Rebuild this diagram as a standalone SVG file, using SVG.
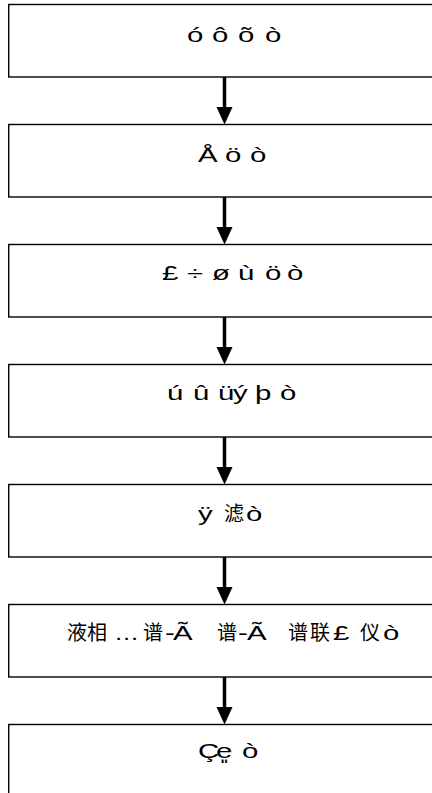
<svg xmlns="http://www.w3.org/2000/svg" width="432" height="793" viewBox="0 0 432 793">
<style>
.box{fill:#fff;stroke:#000;stroke-width:1.4}
.t{font-family:"Liberation Sans",Arial,sans-serif;font-size:21px;fill:#000}
.k{font-family:"Noto Sans CJK SC","Noto Sans CJK JP",sans-serif;font-size:20px;fill:#000}
.c{stroke:#000;stroke-width:3.5;fill:none}
.h{fill:#000}
</style>
<rect width="432" height="793" fill="#fff"/>
<g id="n1"><rect class="box" x="8.7" y="4.5" width="460" height="72.5"/>
<text class="t" transform="scale(1.4,1)" x="133.57 151.43 170 189.29" y="42">óôõò</text></g>
<g id="n2"><rect class="box" x="8.7" y="124.5" width="460" height="72.5"/>
<text class="t" transform="scale(1.4,1)" x="141.43 160.71 178.57" y="162">Åöò</text></g>
<g id="n3"><rect class="box" x="8.7" y="244.5" width="460" height="72.5"/>
<text class="t" transform="scale(1.4,1)" x="115.71 133.57 151.43 170 189.29 205" y="280">£÷øùöò</text></g>
<g id="n4"><rect class="box" x="8.7" y="364.5" width="460" height="72.5"/>
<text class="t" transform="scale(1.4,1)" x="119.29 137.86 155.71 166.43 182.14 200" y="400">úûüýþò</text></g>
<g id="n5"><rect class="box" x="8.7" y="484.5" width="460" height="72.5"/>
<text class="t" transform="scale(1.4,1)" x="141.43" y="521">ÿ</text>
<text class="k" x="224" y="521">滤</text>
<text class="t" transform="scale(1.4,1)" x="175.71" y="521">ò</text></g>
<g id="n6"><rect class="box" x="8.7" y="604.5" width="460" height="72.5"/>
<text class="k" x="67 87" y="640">液相</text>
<text class="t" transform="scale(1.2,1)" x="95" y="640">…</text>
<text class="k" x="143" y="640">谱</text>
<text class="t" transform="scale(1.4,1)" x="117.86 123.57" y="640">-Ã</text>
<text class="k" x="217" y="640">谱</text>
<text class="t" transform="scale(1.4,1)" x="170 176.43" y="640">-Ã</text>
<text class="k" x="288 310" y="640">谱联</text>
<text class="t" transform="scale(1.4,1)" x="237.86" y="640">£</text>
<text class="k" x="360" y="640">仪</text>
<text class="t" transform="scale(1.4,1)" x="273.57" y="640">ò</text></g>
<g id="n7"><rect class="box" x="8.7" y="724.5" width="460" height="90"/>
<text class="t" transform="scale(1.4,1)" x="141.43 154.29" y="758">Çe͈</text>
<text class="t" transform="scale(1.4,1)" x="172.86" y="758">ò</text></g>
<g id="connectors">
<path class="c" d="M224.5 77V108"/><polygon class="h" points="216.5,107 232.5,107 224.5,124.5"/>
<path class="c" d="M224.5 197V228"/><polygon class="h" points="216.5,227 232.5,227 224.5,244.5"/>
<path class="c" d="M224.5 317V348"/><polygon class="h" points="216.5,347 232.5,347 224.5,364.5"/>
<path class="c" d="M224.5 437V468"/><polygon class="h" points="216.5,467 232.5,467 224.5,484.5"/>
<path class="c" d="M224.5 557V588"/><polygon class="h" points="216.5,587 232.5,587 224.5,604.5"/>
<path class="c" d="M224.5 677V708"/><polygon class="h" points="216.5,707 232.5,707 224.5,724.5"/>
</g>
</svg>
